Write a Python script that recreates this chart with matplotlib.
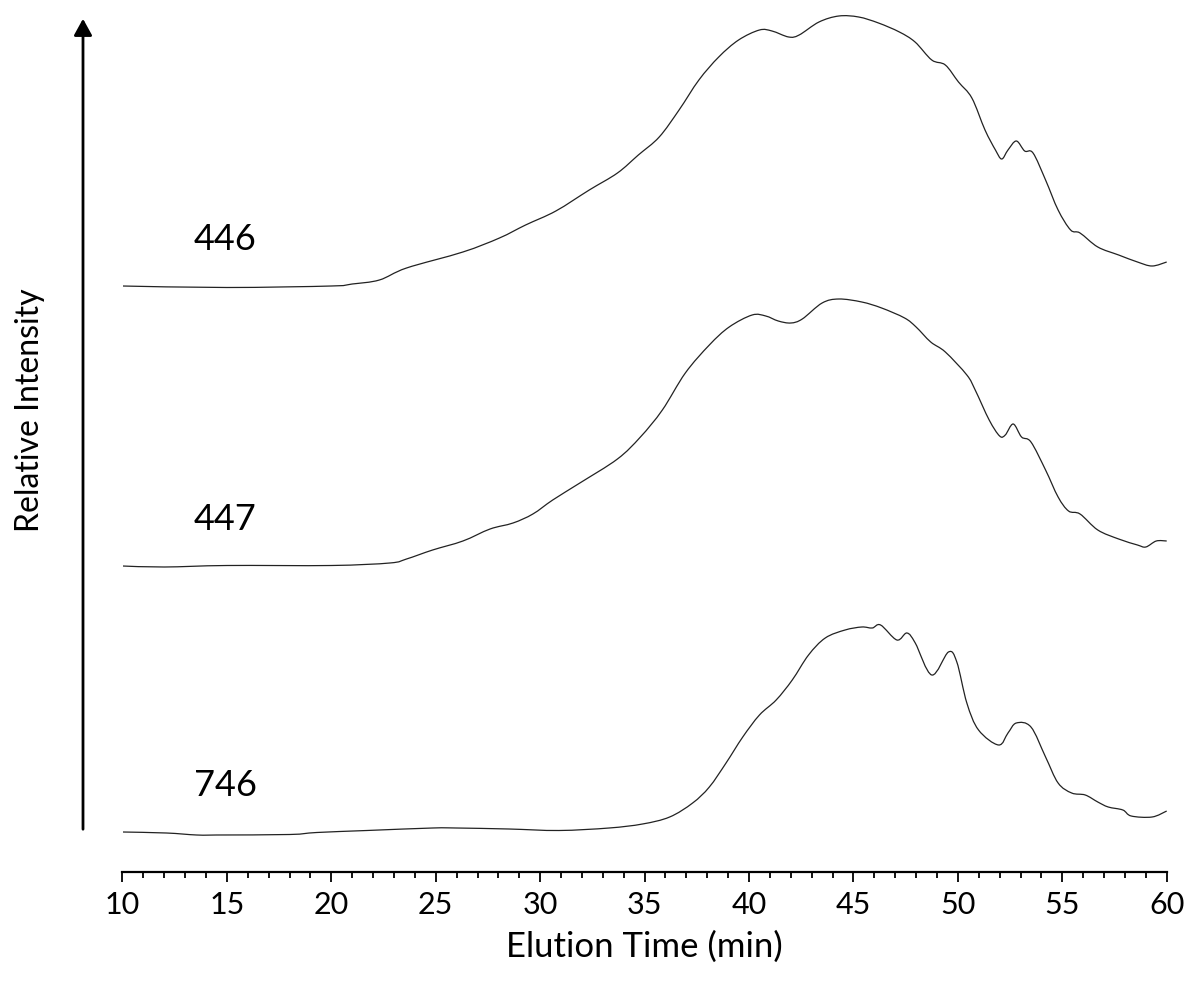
import numpy as np
import matplotlib.pyplot as plt
from matplotlib.path import Path
from matplotlib.patches import PathPatch, FancyArrowPatch

plt.rcParams['font.family'] = ['Lato', 'DejaVu Sans']

# elution time (min) and relative intensity above each trace's own baseline
t_446 = [10, 15, 20, 21, 22.3, 23.6, 26.3, 28.05, 29.3, 30.75, 32.35, 33.7, 34.7,
         35.7, 36.65, 37.6, 38.55, 39.5, 40.5, 41.1, 41.9, 42.4, 43.35, 44.3, 45.25,
         46.2, 47.2, 47.95, 48.75, 49.4, 50.03, 50.67, 51.3, 51.8, 52.1, 52.4, 52.8,
         53.2, 53.6, 54.2, 54.8, 55.4, 55.85, 56.7, 57.7, 58.6, 59.3, 60]
i_446 = [0, -1.5, 0, 2, 6, 18, 34, 48, 61, 75, 96, 113, 131, 149, 176, 206, 229,
         246, 256, 255, 249, 251, 264, 270, 269, 263, 254, 244, 226, 221, 204, 188,
         156, 136, 127, 136, 145, 135, 133, 106, 76, 56, 53, 39, 31, 24, 20, 24]

t_447 = [10, 12, 15, 20, 22.8, 23.6, 24.85, 26.3, 27.6, 28.7, 29.65, 30.6, 31.9,
         33.7, 34.8, 35.85, 36.95, 38.1, 39.05, 40.15, 40.8, 41.4, 42.0, 42.55, 43.5,
         44.3, 45.4, 46.35, 47.45, 48.0, 48.7, 49.4, 50.43, 50.83, 51.5, 52.0, 52.27,
         52.65, 53.05, 53.5, 54.2, 54.8, 55.3, 55.85, 56.7, 57.7, 58.6, 59.0, 59.5, 60]
i_447 = [0, -1, 0.5, 0.5, 3, 7, 16, 25, 37, 43, 52, 66, 83, 107, 129, 156, 193,
         221, 239, 251, 250, 245, 243, 247, 263, 267, 264, 258, 248, 239, 224, 214,
         191, 176, 146, 130, 131, 142, 129, 124, 96, 69, 55, 52, 36, 27, 21, 19, 25, 25]

t_746 = [10, 12.1, 13.55, 14.5, 18, 19.3, 21.7, 24.85, 25.97, 28.5, 30.9, 33.3, 34.9,
         36.2, 37.3, 38.1, 38.9, 39.7, 40.5, 41.3, 42.07, 42.85, 43.65, 44.6, 45.4,
         45.9, 46.3, 47.08, 47.56, 47.96, 48.75, 49.55, 49.95, 50.43, 50.99, 51.95,
         52.4, 52.8, 53.5, 54.2, 54.8, 55.45, 56.1, 56.7, 57.2, 57.9, 58.3, 59.3, 60]
i_746 = [0, -1, -3, -3, -2.5, -0.5, 1.5, 4, 4, 3, 1.5, 4, 8, 15, 29, 45, 69, 95, 117,
         132, 152, 177, 194, 202, 205, 204, 207, 192, 199, 189, 157, 180, 170, 129,
         102, 87, 99, 109, 105, 75, 49, 39, 37, 30, 25, 22, 16, 15, 21]

sample_names = ['446', '447', '746']
times = [t_446, t_447, t_746]
intensities = [i_446, i_447, i_746]
offsets = [546, 266, 0]


def smooth_path(x, y):
    # Catmull-Rom segments drawn as cubic Bezier curves through the read points
    pts = np.column_stack([x, y]).astype(float)
    verts = [pts[0]]
    codes = [Path.MOVETO]
    for k in range(len(pts) - 1):
        p0 = pts[k - 1] if k > 0 else pts[k]
        p1, p2 = pts[k], pts[k + 1]
        p3 = pts[k + 2] if k + 2 < len(pts) else pts[k + 1]
        verts += [p1 + (p2 - p0) / 6, p2 - (p3 - p1) / 6, p2]
        codes += [Path.CURVE4] * 3
    return Path(verts, codes)


fig = plt.figure(figsize=(11.89, 9.82), dpi=100)
ax = fig.add_axes([122.5 / 1189, 1 - 872 / 982, (1166.7 - 122.5) / 1189, 862 / 982])

for name, t, y, off in zip(sample_names, times, intensities, offsets):
    ax.add_patch(PathPatch(smooth_path(t, np.array(y) + off + 40),
                           facecolor='none', edgecolor='#222222', lw=0.9))
    ax.text(13.4, off + 40 + 46, name, fontsize=26, ha='left', va='center')

ax.set_xlim(10, 60)
ax.set_ylim(0, 862)
ax.set_xticks(np.arange(10, 61, 5))
ax.set_xticks(np.arange(10, 61, 1), minor=True)
ax.tick_params(axis='x', which='major', length=7, width=1.3, labelsize=22, pad=7)
ax.tick_params(axis='x', which='minor', length=4.5, width=1.3)
ax.set_yticks([])
for side in ['left', 'right', 'top']:
    ax.spines[side].set_visible(False)
ax.spines['bottom'].set_linewidth(1.6)
ax.set_xlabel('Elution Time (min)', fontsize=25, labelpad=8)

# vertical arrow for intensity
fig.add_artist(FancyArrowPatch(
    (83 / 1189, 1 - 832 / 982), (83 / 1189, 1 - 16 / 982),
    transform=fig.transFigure, arrowstyle='-|>,head_length=10,head_width=5.5',
    mutation_scale=1, lw=2, color='black'))
fig.text(30 / 1189, 1 - 410 / 982, 'Relative Intensity', rotation=90,
         fontsize=23, ha='center', va='center')

plt.savefig('out.png', dpi=100)
